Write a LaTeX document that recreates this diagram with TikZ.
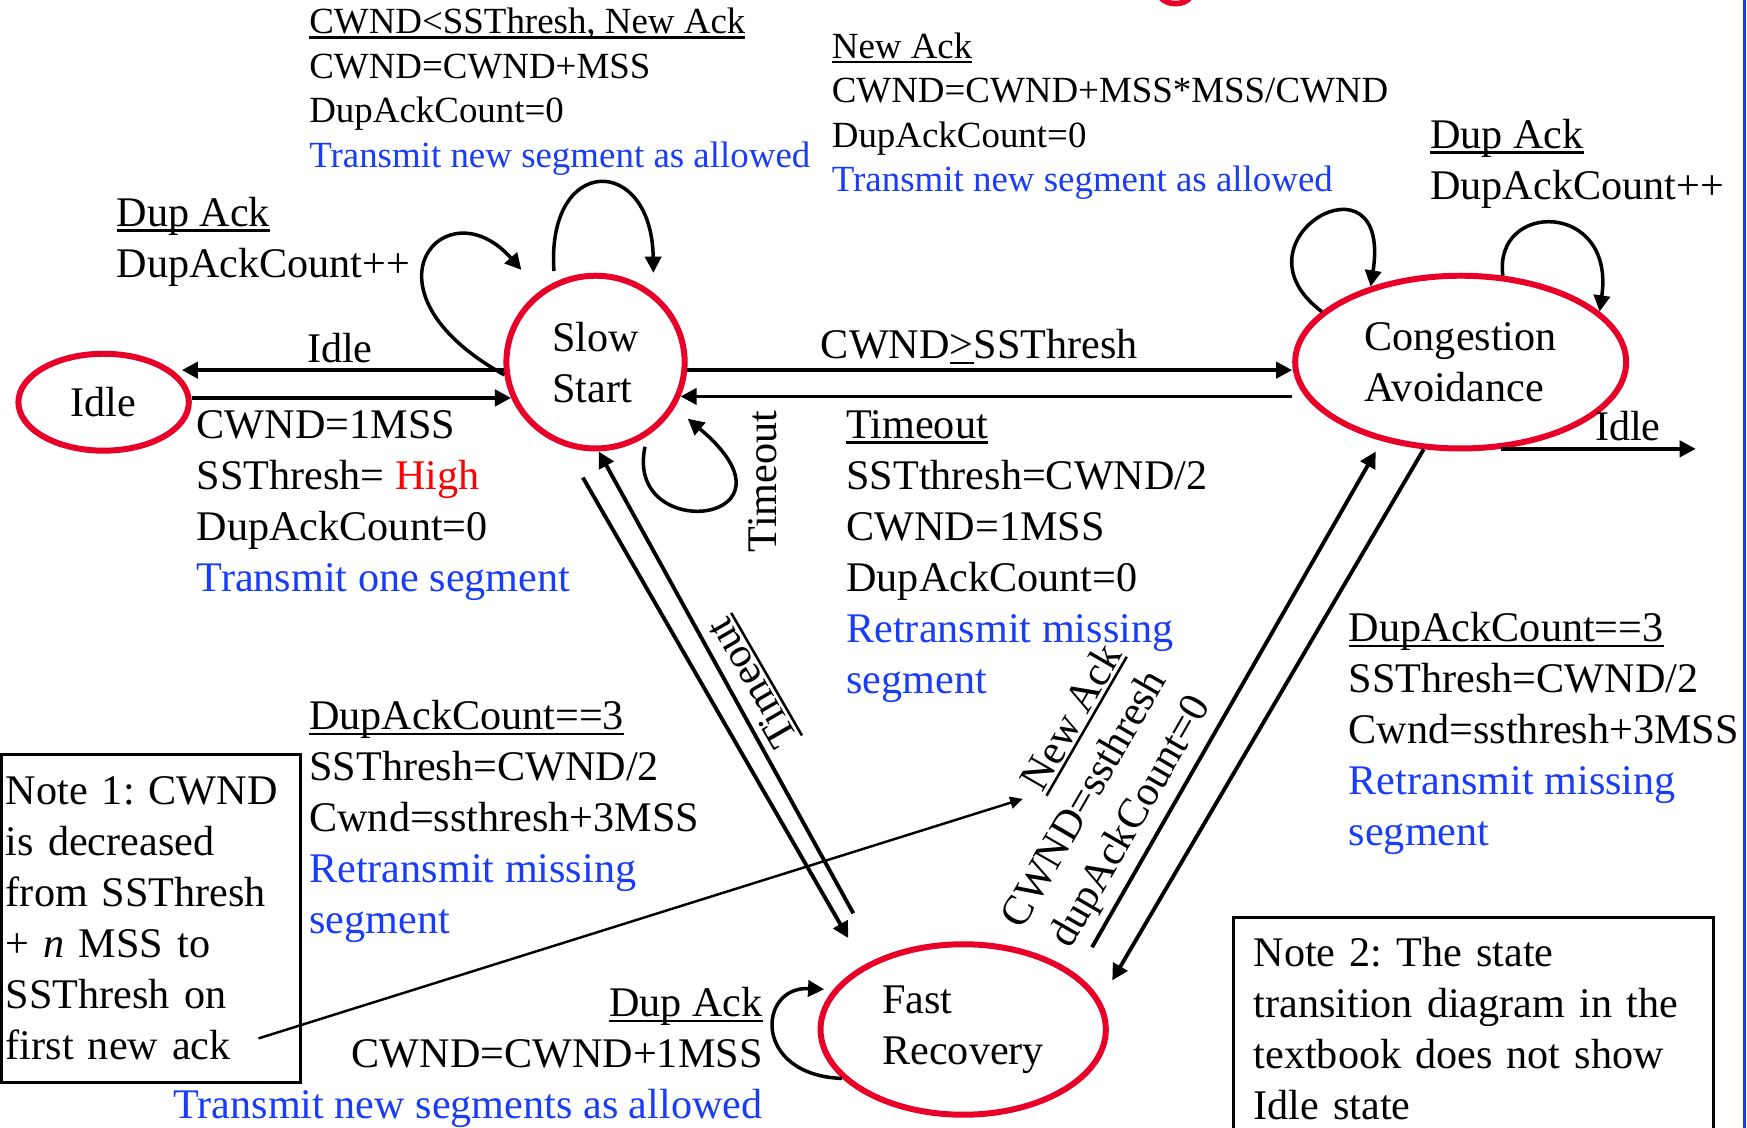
\documentclass[tikz,border=0pt]{standalone}
\usepackage{fontspec}
\setmainfont{Liberation Serif}
\usepackage{xcolor}
\usepackage{tikz}
\usetikzlibrary{shapes.geometric,arrows.meta}
\frenchspacing

\definecolor{stred}{RGB}{232,0,40}
\definecolor{txtblue}{RGB}{25,60,245}
\definecolor{hired}{RGB}{255,0,0}
\definecolor{slideblue}{RGB}{30,60,230}

\newcommand{\ultext}[1]{\setbox0\hbox{#1}\rlap{\rule[-0.13em]{\wd0}{0.06em}}\box0}

\begin{document}
\begin{tikzpicture}[x=0.01114cm,y=-0.01114cm,
  state/.style={ellipse,draw=stred,line width=1.7pt,inner sep=0pt,align=left,
    font=\fontsize{12}{14.5}\selectfont},
  lbl/.style={inner sep=0pt,align=left,anchor=base west,font=\fontsize{12}{14.5}\selectfont},
  lblsm/.style={lbl,font=\fontsize{10.5}{12.65}\selectfont},
  arr/.style={line width=1.1pt,-{Triangle[length=4.6pt,width=4.6pt]}},
  looparr/.style={arr,line width=1pt},
  notebox/.style={draw,line width=0.8pt,anchor=north west,inner ysep=0.2cm,align=left,
    font=\fontsize{12}{14.5}\selectfont},
  notearr/.style={line width=0.7pt,-{Triangle[length=3.6pt,width=3.4pt]}}]
\useasboundingbox (0,0) rectangle (1568,1012);

\draw[slideblue,line width=0.9pt] (1566,0) -- (1566,1012);
\draw[stred,line width=1.6pt] (1042,-2) .. controls (1048,5) and (1062,5) .. (1068,-2);

\node[state,minimum width=1.704cm,minimum height=0.969cm] (idle) at (93,361) {Idle};
\node[state,minimum width=1.782cm,minimum height=1.727cm] (ss) at (534.5,325) {Slow\\Start};
\node[state,minimum width=3.309cm,minimum height=1.727cm] (ca) at (1311,325) {Congestion\\Avoidance};
\node[state,minimum width=2.852cm,minimum height=1.704cm] (fr) at (864.5,924) {Fast\\Recovery};

\draw[arr] (ss.185) -- ([xshift=-0.1cm]idle.east |- ss.185);
\draw[arr] (idle.east |- ss.203) -- (ss.203);
\draw[arr] (ss.-5) -- (ss.-5 -| ca.west);
\draw[arr] (ss.-22 -| ca.west) -- (ss.-22);
\coordinate (caidle) at (1522,402);
\draw[arr] (ca.-65) -- (ca.-65 -| caidle);

\draw[looparr,shorten <=0.11cm,shorten >=0.2cm] (ss.117) .. controls (490,138) and (585,138) .. (ss.50);
\draw[looparr,shorten >=0.28cm] (ss.188) .. controls (315,260) and (400,165) .. (ss.128);
\draw[looparr,shorten <=0.11cm,shorten >=0.17cm] (ss.-55) .. controls (560,490) and (730,470) .. (ss.-30);
\draw[looparr] (ca.160) .. controls (1100,215) and (1250,130) .. (ca.140);
\draw[looparr] (ca.64) .. controls (1340,180) and (1450,180) .. (ca.20);
\draw[looparr,shorten >=0.09cm] (fr.202) .. controls (675,965) and (680,885) .. (fr.163);

\draw[arr,shorten <=0.36cm,shorten >=0.31cm] (ss.-110) -- (fr.147);
\draw[arr,shorten <=0.51cm] (fr.140) -- (ss.-88);
\draw[arr,shorten >=0.23cm] (ca.-113) -- (fr.12);
\draw[arr,shorten <=0.31cm,shorten >=0.12cm] (fr.26) -- (ca.-135);

\node[lblsm] (ssgrowlbl) at (277,150) {\ultext{CWND<SSThresh, New Ack}\\CWND=CWND+MSS\\DupAckCount=0\\\textcolor{txtblue}{Transmit new segment as allowed}};
\node[lblsm] (cagrowlbl) at (746,172) {\ultext{New Ack}\\CWND=CWND+MSS*MSS/CWND\\DupAckCount=0\\\textcolor{txtblue}{Transmit new segment as allowed}};
\node[lbl] (ssduplbl) at (104,249) {\ultext{Dup Ack}\\DupAckCount++};
\node[lbl] (caduplbl) at (1283,179) {\ultext{Dup Ack}\\DupAckCount++};
\node[lbl,anchor=base] (ssidlelbl) at (305,325) {Idle};
\node[lbl,anchor=base] (sscalbl) at (879,322) {CWND\ultext{>}SSThresh};
\node[lbl,anchor=base] (caidlelbl) at (1461,395) {Idle};
\node[lbl] (startlbl) at (176,531) {CWND=1MSS\\SSThresh= \textcolor{hired}{High}\\DupAckCount=0\\\textcolor{txtblue}{Transmit one segment}};
\node[lbl] (casslbl) at (759,622) {\ultext{Timeout}\\SSTthresh=CWND/2\\CWND=1MSS\\DupAckCount=0\\\textcolor{txtblue}{Retransmit missing}\\\textcolor{txtblue}{segment}};
\node[lbl] (ssfrlbl) at (277,838) {\ultext{DupAckCount==3}\\SSThresh=CWND/2\\Cwnd=ssthresh+3MSS\\\textcolor{txtblue}{Retransmit missing}\\\textcolor{txtblue}{segment}};
\node[lbl] (cafrlbl) at (1210,759) {\ultext{DupAckCount==3}\\SSThresh=CWND/2\\Cwnd=ssthresh+3MSS\\\textcolor{txtblue}{Retransmit missing}\\\textcolor{txtblue}{segment}};
\node[lbl,anchor=base east,align=right] (frduplbl) at (685,1004) {\ultext{Dup Ack}\\CWND=CWND+1MSS\\\textcolor{txtblue}{Transmit new segments as allowed}};
\node[lbl,anchor=center,rotate=90] (sstolbl) at (685,432) {Timeout};
\node[lbl,anchor=center,rotate=120] (frtolbl) at (676,612) {\ultext{Timeout}};
\node[lbl,anchor=center,rotate=60,align=right] (frcalbl) at (975,718) {\ultext{New Ack}\\CWND=ssthresh\\dupAckCount=0};

\node[notebox,text width=2.9cm,inner xsep=0.045cm,minimum height=3.275cm] (note1) at (0,676) {Note 1: CWND\\is decreased\\from SSThresh\\+ \textit{n} MSS to\\SSThresh on\\first new ack};
\node[notebox,text width=4.4cm,inner xsep=0.2cm] (note2) at (1106,822) {Note 2: The state\\transition diagram in the\\textbook does not show\\Idle state};

\coordinate (notetail) at (232,932);
\coordinate (notehead) at (918,717);
\draw[notearr] (notetail) -- (notehead);
\end{tikzpicture}
\end{document}
